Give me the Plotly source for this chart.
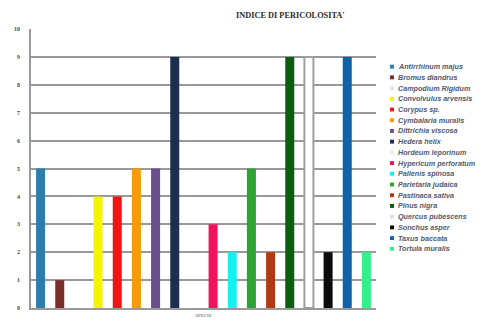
import plotly.graph_objects as go

species = ["Antirrhinum majus", "Bromus diandrus", "Campodium Rigidum", "Convolvulus arvensis",
           "Corypus sp.", "Cymbalaria muralis", "Dittrichia viscosa", "Hedera helix",
           "Hordeum leporinum", "Hypericum perforatum", "Pallenis spinosa", "Parietaria judaica",
           "Pastinaca sativa", "Pinus nigra", "Quercus pubescens", "Sonchus asper",
           "Taxus baccata", "Tortula muralis"]
values = [5, 1, 0, 4, 4, 5, 5, 9, 0, 3, 2, 5, 2, 9, 9, 2, 9, 2]
colors = ["#2f7dad", "#7a2e2b", "#e4e4e4", "#f4f400", "#f01414", "#f59a0a", "#6a4f8c", "#1c2f4e",
          "#ececec", "#f0125c", "#14f0f0", "#2ea334", "#b23a12", "#0b5e10", "#ffffff", "#0a0a0a",
          "#1262aa", "#33f08a"]
category = ["SPECIE"]
y_ticks = list(range(0, 11))
title_text = "INDICE DI PERICOLOSITA'"

fig = go.Figure()
for name, v, c in zip(species, values, colors):
    is_white = c == "#ffffff"
    fig.add_trace(go.Bar(
        x=category, y=[v], name=name,
        marker=dict(color=c,
                    line=dict(color="#a0a0a0" if is_white else c, width=2 if is_white else 0)),
        showlegend=False,
    ))

# page has an 8px body margin: figure is 8px smaller, targets are page pixels
OFF = 8
plot_left, plot_right, plot_top, plot_bot = 31, 376, 29, 318
pw, ph = plot_right - plot_left, plot_bot - plot_top

def px(x):
    return (x - plot_left) / pw

def py(y):
    return (plot_bot - y) / ph

# manual legend (plotly's minimum legend row height is too tall)
for i, (name, c) in enumerate(zip(species, colors)):
    ypix = 68 + i * 11.1
    fig.add_shape(type="rect", xref="paper", yref="paper",
                  x0=px(390), x1=px(394), y0=py(ypix + 2), y1=py(ypix - 2),
                  fillcolor=c if c != "#ffffff" else "#e0e0e0",
                  line=dict(width=0))
    fig.add_annotation(x=px(396), y=py(ypix), xref="paper", yref="paper",
                       text="<b><i>" + name + "</i></b>", showarrow=False,
                       xanchor="left", yanchor="middle",
                       font=dict(family="Liberation Sans", size=7.2, color="#545a6c"))

fig.add_annotation(x=px(290), y=py(15), xref="paper", yref="paper",
                   text="<b>" + title_text + "</b>", showarrow=False,
                   xanchor="center", yanchor="middle",
                   font=dict(family="Liberation Serif", size=8.3, color="#2a2a2a"))

W, H = 483 - OFF, 324 - OFF
fig.update_layout(
    width=W, height=H,
    margin=dict(l=plot_left - OFF, r=W - (plot_right - OFF), t=plot_top - OFF,
                b=H - (plot_bot - OFF)),
    paper_bgcolor="white", plot_bgcolor="white",
    barmode="group", bargap=0, bargroupgap=0.53,
    font=dict(family="Liberation Serif", color="#444444"),
    xaxis=dict(showgrid=False, showline=True, linecolor="#999999", linewidth=1.5,
               ticks="", ticklabelstandoff=1, tickfont=dict(size=5, color="#555555")),
    yaxis=dict(range=[0, 10], tickvals=y_ticks, ticktext=["<b>%d</b>" % t for t in y_ticks],
               showgrid=True, gridcolor="#999999",
               gridwidth=1.6, showline=True, linecolor="#999999", linewidth=1.6,
               ticks="", ticklabelstandoff=8, zeroline=False,
               tickfont=dict(size=6, color="#444444", family="Liberation Serif")),
)

fig.write_html("out.html")
